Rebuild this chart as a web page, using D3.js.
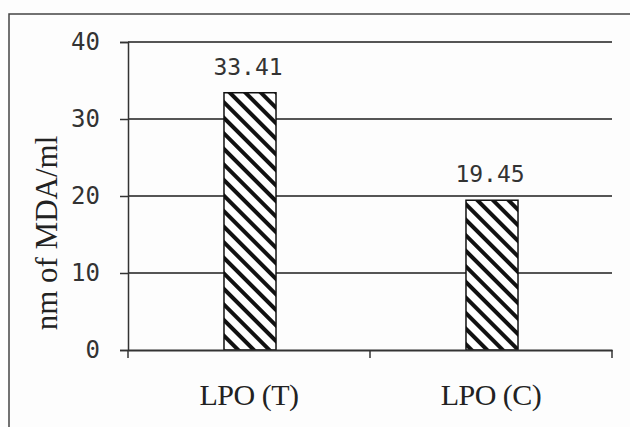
<!DOCTYPE html>
<html><head><meta charset="utf-8">
<script src="https://cdn.jsdelivr.net/npm/d3@7"></script>
<style>body{margin:0;background:#fdfdfd;} svg{display:block;}</style>
</head><body>
<svg id="c" width="630" height="427"></svg>
<script>
const categories = ["LPO (T)", "LPO (C)"];
const values = [33.41, 19.45];
const yTicks = [0, 10, 20, 30, 40];
const yTitle = "nm of MDA/ml";

const svg = d3.select("#c");
const W = 630, H = 427;
const m = {left: 128, right: 18, top: 42, bottom: 77};
const monoFont = "'DejaVu Sans Mono','Liberation Mono',monospace";
const serifFont = "'Liberation Serif','Times New Roman',serif";

svg.append("rect").attr("width", W).attr("height", H).attr("fill", "#fdfdfd");
// outer frame (extends past right/bottom)
svg.append("rect").attr("x", 9).attr("y", 14).attr("width", 700).attr("height", 500)
  .attr("fill", "none").attr("stroke", "#444").attr("stroke-width", 1.5);

const defs = svg.append("defs");
const pat = defs.append("pattern").attr("id", "hatch").attr("patternUnits", "userSpaceOnUse")
  .attr("width", 11).attr("height", 11).attr("patternTransform", "rotate(45)");
pat.append("rect").attr("width", 11).attr("height", 11).attr("fill", "#fff");
pat.append("rect").attr("x", 0).attr("y", 0).attr("width", 11).attr("height", 4).attr("fill", "#111");

const x = d3.scaleBand().domain(categories).range([m.left, W - m.right]).paddingInner(0).paddingOuter(0);
const y = d3.scaleLinear().domain([0, 40]).range([H - m.bottom, m.top]);

// gridlines
svg.append("g").selectAll("line").data(yTicks.filter(d => d > 0)).join("line")
  .attr("x1", m.left).attr("x2", W - m.right)
  .attr("y1", d => y(d)).attr("y2", d => y(d))
  .attr("stroke", "#555").attr("stroke-width", 2);

// bars
const bw = x.bandwidth() * 0.215;
svg.append("g").selectAll("rect").data(values).join("rect")
  .attr("x", (d, i) => x(categories[i]) + x.bandwidth() / 2 - bw / 2 + 1)
  .attr("y", d => y(d)).attr("width", bw).attr("height", d => y(0) - y(d))
  .attr("fill", "url(#hatch)").attr("stroke", "#111").attr("stroke-width", 1.5);

// y axis
const ya = svg.append("g").attr("transform", `translate(${m.left},0)`)
  .call(d3.axisLeft(y).tickValues(yTicks).tickSize(8).tickPadding(20));
ya.select(".domain").attr("stroke", "#333").attr("stroke-width", 1.5);
ya.selectAll(".tick line").attr("stroke", "#333").attr("stroke-width", 1.5);
ya.selectAll("text").attr("font-family", monoFont)
  .attr("font-size", 24).attr("fill", "#333");

// x axis
const xa = svg.append("g").attr("transform", `translate(0,${y(0)})`)
  .call(d3.axisBottom(x).tickSize(0).tickPadding(34));
xa.select(".domain").attr("stroke", "#333").attr("stroke-width", 2);
xa.selectAll("text").attr("font-family", serifFont)
  .attr("font-size", 30).attr("letter-spacing", -0.5).attr("fill", "#222");
// x boundary ticks
const bounds = [x.range()[0], x(categories[1]), x.range()[1]];
svg.append("g").selectAll("line").data(bounds).join("line")
  .attr("x1", d => d).attr("x2", d => d).attr("y1", y(0)).attr("y2", y(0) + 8)
  .attr("stroke", "#333").attr("stroke-width", 1.5);

// value labels
svg.append("g").selectAll("text").data(values).join("text")
  .attr("x", (d, i) => x(categories[i]) + x.bandwidth() / 2 - 1)
  .attr("y", d => y(d) - 18)
  .attr("text-anchor", "middle")
  .attr("font-family", monoFont)
  .attr("font-size", 23).attr("fill", "#333")
  .text(d => d.toFixed(2));

// y title
svg.append("text").attr("transform", `translate(57,233) rotate(-90)`)
  .attr("text-anchor", "middle")
  .attr("font-family", serifFont)
  .attr("font-size", 31).attr("fill", "#222").text(yTitle);
</script>
</body></html>
